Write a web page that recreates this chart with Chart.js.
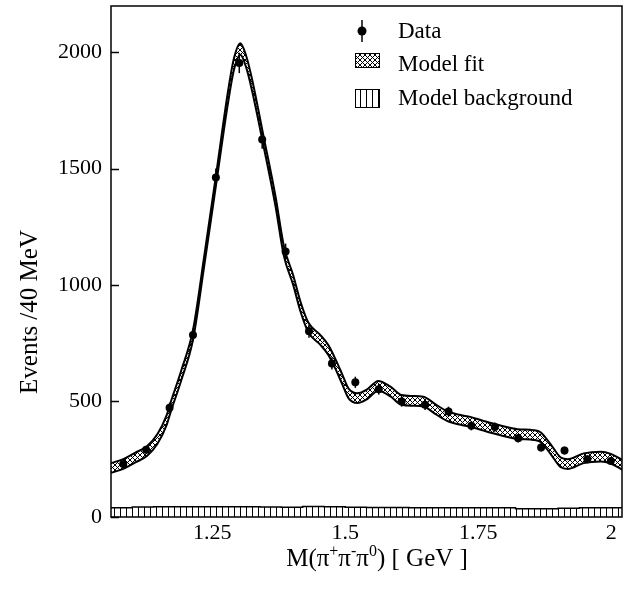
<!DOCTYPE html>
<html>
<head>
<meta charset="utf-8">
<script src="https://cdn.jsdelivr.net/npm/chart.js@4/dist/chart.umd.min.js"></script>
<style>
  html, body { margin: 0; padding: 0; background: #fff; }
</style>
</head>
<body>
<canvas id="massChart" width="631" height="590"></canvas>
<script>
// measured points (GeV, events / bin)
const dataMass = [1.083, 1.126, 1.170, 1.214, 1.257, 1.301, 1.344, 1.388, 1.432, 1.475, 1.519,
                  1.563, 1.606, 1.650, 1.694, 1.737, 1.781, 1.825, 1.868, 1.912, 1.955, 1.999];
const dataEvents = [228, 289, 470, 784, 1462, 1955, 1625, 1143, 800, 661, 580,
                    550, 497, 483, 454, 393, 387, 339, 299, 286, 249, 241];
const dataErrors = [15, 17, 22, 28, 38, 44, 40, 34, 28, 26, 24,
                    23, 22, 22, 21, 20, 20, 18, 17, 17, 16, 16];

// model fit band
const fitMass = [1.060, 1.083, 1.105, 1.128, 1.147, 1.165, 1.171, 1.192, 1.214, 1.235,
                 1.258, 1.280, 1.291, 1.303, 1.314, 1.325, 1.346, 1.369, 1.385, 1.402,
                 1.416, 1.431, 1.453, 1.468, 1.481, 1.495, 1.506, 1.523, 1.542, 1.562,
                 1.585, 1.606, 1.626, 1.647, 1.669, 1.694, 1.717, 1.735, 1.760, 1.792,
                 1.824, 1.854, 1.867, 1.886, 1.905, 1.918, 1.948, 1.980, 1.999, 2.020];
const fitUpper = [232, 249, 276, 306, 356, 441, 486, 631, 805, 1121,
                  1483, 1835, 1975, 2040, 1985, 1885, 1646, 1381, 1164, 1043,
                  927, 836, 784, 741, 683, 611, 554, 533, 551, 586,
                  561, 525, 521, 518, 486, 453, 439, 431, 414, 394,
                  378, 374, 365, 313, 256, 249, 274, 281, 272, 246];
const fitLower = [190, 207, 234, 264, 314, 399, 444, 589, 763, 1079,
                  1441, 1785, 1925, 1990, 1935, 1835, 1604, 1339, 1122, 1001,
                  885, 794, 742, 699, 641, 569, 512, 491, 509, 544,
                  519, 483, 479, 476, 444, 411, 397, 389, 372, 352,
                  336, 332, 323, 271, 214, 207, 232, 239, 230, 204];

// model background histogram
const bkgEdges = [1.06, 1.10, 1.14, 1.18, 1.22, 1.26, 1.30, 1.34, 1.38, 1.42, 1.46, 1.50, 1.54,
                  1.58, 1.62, 1.66, 1.70, 1.74, 1.78, 1.82, 1.86, 1.90, 1.94, 1.98, 2.02];
const bkgEvents = [40, 40, 43, 44, 44, 44, 44, 44, 43, 42, 45, 44,
                   42, 41, 41, 40, 40, 40, 40, 40, 35, 36, 38, 40];

const xTickValues = [1.25, 1.5, 1.75, 2];
const yTickValues = [0, 500, 1000, 1500, 2000];

const SERIF = "'Liberation Serif', 'DejaVu Serif', serif";

function makeCrossHatch() {
    const s = 5;
    const c = document.createElement("canvas");
    c.width = s; c.height = s;
    const g = c.getContext("2d");
    g.fillStyle = "#fff";
    g.fillRect(0, 0, s, s);
    g.strokeStyle = "#000";
    g.lineWidth = 1;
    g.beginPath();
    g.moveTo(-1, -1); g.lineTo(s + 1, s + 1);
    g.moveTo(s + 1, -1); g.lineTo(-1, s + 1);
    g.stroke();
    return g.createPattern(c, "repeat");
}

function makeVertHatch() {
    const c = document.createElement("canvas");
    c.width = 6; c.height = 4;
    const g = c.getContext("2d");
    g.fillStyle = "#fff";
    g.fillRect(0, 0, 6, 4);
    g.fillStyle = "#000";
    g.fillRect(0, 0, 1, 4);
    return g.createPattern(c, "repeat");
}

const crossHatch = makeCrossHatch();
const vertHatch = makeVertHatch();

const toPoints = (xs, ys) => xs.map((x, i) => ({ x: x, y: ys[i] }));

const bkgPoints = bkgEvents.map((v, i) => ({ x: bkgEdges[i], y: v }));
bkgPoints.push({ x: bkgEdges[bkgEdges.length - 1], y: bkgEvents[bkgEvents.length - 1] });

const decorPlugin = {
    id: "decor",
    afterDatasetsDraw(chart) {
        const ctx = chart.ctx;
        const xs = chart.scales.x, ys = chart.scales.y;
        // error bars
        ctx.save();
        ctx.strokeStyle = "#000";
        ctx.lineWidth = 1.5;
        dataMass.forEach((m, i) => {
            const px = xs.getPixelForValue(m);
            ctx.beginPath();
            ctx.moveTo(px, ys.getPixelForValue(dataEvents[i] + dataErrors[i]));
            ctx.lineTo(px, ys.getPixelForValue(dataEvents[i] - dataErrors[i]));
            ctx.stroke();
        });
        ctx.restore();
    },
    afterDraw(chart) {
        const ctx = chart.ctx;
        const a = chart.chartArea;
        const ys = chart.scales.y;
        ctx.save();
        // frame
        ctx.strokeStyle = "#000";
        ctx.lineWidth = 1.5;
        ctx.strokeRect(a.left, a.top, a.right - a.left, a.bottom - a.top);
        // inner y ticks
        yTickValues.forEach(v => {
            const py = Math.round(ys.getPixelForValue(v)) + 0.5;
            ctx.beginPath();
            ctx.moveTo(a.left, py);
            ctx.lineTo(a.left + 8, py);
            ctx.stroke();
        });

        // legend
        ctx.fillStyle = "#000";
        ctx.lineWidth = 1.5;
        ctx.beginPath();
        ctx.moveTo(362, 20); ctx.lineTo(362, 42);
        ctx.stroke();
        ctx.beginPath();
        ctx.arc(362, 31, 4.5, 0, Math.PI * 2);
        ctx.fill();

        ctx.lineWidth = 1;
        ctx.fillStyle = crossHatch;
        ctx.fillRect(355, 53, 24, 14);
        ctx.strokeRect(355.5, 53.5, 24, 14);
        ctx.fillStyle = vertHatch;
        ctx.fillRect(355, 89, 24, 18);
        ctx.strokeRect(355.5, 89.5, 24, 18);

        ctx.fillStyle = "#000";
        ctx.font = "23px " + SERIF;
        ctx.textAlign = "left";
        ctx.textBaseline = "middle";
        ctx.fillText("Data", 398, 32);
        ctx.fillText("Model fit", 398, 65);
        ctx.fillText("Model background", 398, 99);

        // y axis title
        ctx.save();
        ctx.font = "25px " + SERIF;
        ctx.translate(30, 312);
        ctx.rotate(-Math.PI / 2);
        ctx.textAlign = "center";
        ctx.fillText("Events /40 MeV", 0, 0);
        ctx.restore();

        // x axis title with superscripts
        const parts = [
            ["M(\u03c0", false], ["+", true], ["\u03c0", false], ["-", true],
            ["\u03c0", false], ["0", true], [") [ GeV ]", false]
        ];
        const big = "25px " + SERIF, small = "16px " + SERIF;
        let total = 0;
        parts.forEach(p => { ctx.font = p[1] ? small : big; total += ctx.measureText(p[0]).width; });
        let x = 377 - total / 2;
        const base = 566;
        ctx.textBaseline = "alphabetic";
        parts.forEach(p => {
            ctx.font = p[1] ? small : big;
            ctx.fillText(p[0], x, p[1] ? base - 10 : base);
            x += ctx.measureText(p[0]).width;
        });
        ctx.restore();
    }
};

new Chart(document.getElementById("massChart"), {
    type: "line",
    data: {
        datasets: [
            {
                label: "Data",
                data: toPoints(dataMass, dataEvents),
                showLine: false,
                pointRadius: 4,
                pointBackgroundColor: "#000",
                pointBorderWidth: 0
            },
            {
                label: "fit low",
                data: toPoints(fitMass, fitLower),
                borderColor: "#000",
                borderWidth: 2,
                pointRadius: 0,
                cubicInterpolationMode: "monotone",
                fill: false
            },
            {
                label: "Model fit",
                data: toPoints(fitMass, fitUpper),
                borderColor: "#000",
                borderWidth: 2,
                pointRadius: 0,
                cubicInterpolationMode: "monotone",
                backgroundColor: crossHatch,
                fill: "-1"
            },
            {
                label: "Model background",
                data: bkgPoints,
                stepped: "after",
                borderColor: "#000",
                borderWidth: 1.5,
                pointRadius: 0,
                backgroundColor: vertHatch,
                fill: "origin"
            }
        ]
    },
    options: {
        responsive: false,
        animation: false,
        events: [],
        layout: { padding: { top: 6, right: 9, left: 0, bottom: 0 } },
        plugins: {
            legend: { display: false },
            tooltip: { enabled: false }
        },
        scales: {
            x: {
                type: "linear",
                min: 1.06,
                max: 2.02,
                grid: { display: false, drawTicks: false },
                border: { display: false },
                afterBuildTicks: (scale) => { scale.ticks = xTickValues.map(v => ({ value: v })); },
                afterFit: (scale) => {
                    scale.height = 73;
                    scale.paddingLeft = 0;
                    scale.paddingRight = 0;
                },
                ticks: {
                    color: "#000",
                    padding: 3,
                    maxRotation: 0,
                    font: { family: SERIF, size: 22 },
                    callback: (v) => String(v)
                }
            },
            y: {
                min: 0,
                max: 2200,
                grid: { display: false, drawTicks: false },
                border: { display: false },
                afterBuildTicks: (scale) => { scale.ticks = yTickValues.map(v => ({ value: v })); },
                afterFit: (scale) => {
                    scale.width = 111;
                    scale.paddingTop = 0;
                    scale.paddingBottom = 0;
                },
                ticks: {
                    color: "#000",
                    padding: 9,
                    font: { family: SERIF, size: 22 },
                    callback: (v) => String(v)
                }
            }
        }
    },
    plugins: [decorPlugin]
});
</script>
</body>
</html>
